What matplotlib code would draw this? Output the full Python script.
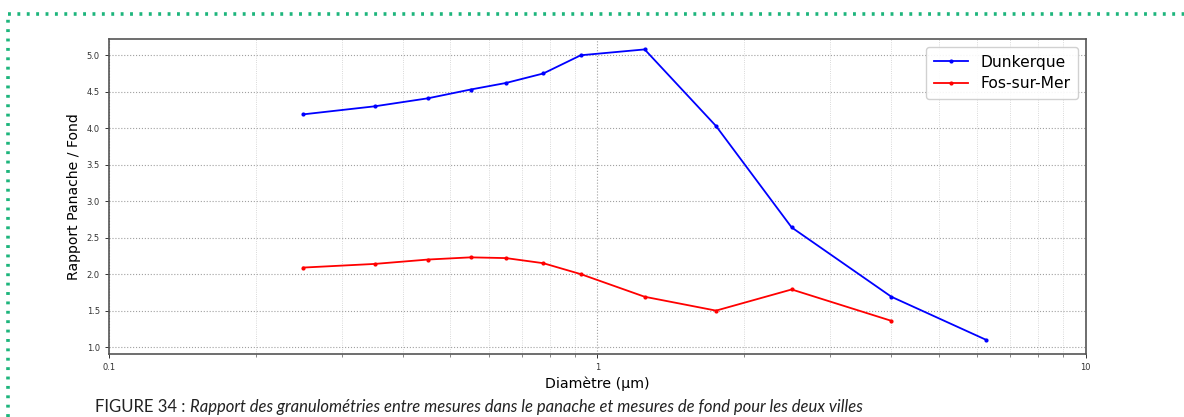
"""Rapport panache / fond des granulométries, Dunkerque vs Fos-sur-Mer."""
import numpy as np
import matplotlib
matplotlib.use("Agg")
import matplotlib.pyplot as plt
from matplotlib.lines import Line2D
from matplotlib.ticker import FixedLocator, FuncFormatter

# diamètres des classes (µm) et rapports
diam_dunkerque = [0.25, 0.35, 0.45, 0.55, 0.65, 0.775, 0.925, 1.25, 1.75, 2.5, 4.0, 6.25]
ratio_dunkerque = [4.19, 4.30, 4.41, 4.53, 4.62, 4.75, 5.00, 5.08, 4.03, 2.64, 1.69, 1.10]

diam_fos = [0.25, 0.35, 0.45, 0.55, 0.65, 0.775, 0.925, 1.25, 1.75, 2.5, 4.0]
ratio_fos = [2.09, 2.14, 2.20, 2.23, 2.22, 2.15, 2.00, 1.69, 1.50, 1.79, 1.36]

yticks = [1.0, 1.5, 2.0, 2.5, 3.0, 3.5, 4.0, 4.5, 5.0]
xticks = [0.1, 1, 10]

caption_head = "FIGURE 34 : "
caption_body = ("Rapport des granulométries entre mesures dans le panache "
                "et mesures de fond pour les deux villes")

fig = plt.figure(figsize=(11.84, 4.17), dpi=100)
ax = fig.add_axes([0.092, 0.151, 0.825, 0.755])

ax.plot(diam_dunkerque, ratio_dunkerque, "-", color="blue", marker=".",
        markersize=4, linewidth=1.3, label="Dunkerque")
ax.plot(diam_fos, ratio_fos, "-", color="red", marker=".",
        markersize=4, linewidth=1.3, label="Fos-sur-Mer")

ax.set_xscale("log")
ax.set_xlim(0.1, 10)
ax.set_ylim(0.905, 5.22)
ax.xaxis.set_major_locator(FixedLocator(xticks))
ax.xaxis.set_major_formatter(FuncFormatter(lambda v, p: f"{v:g}"))
ax.set_yticks(yticks)
ax.set_yticklabels([f"{v:.1f}" for v in yticks])
ax.tick_params(labelsize=6, colors="#333333", length=3, width=0.7)
ax.tick_params(which="minor", length=2, width=0.5, colors="#555555")

ax.grid(True, which="major", linestyle=":", color="#a0a0a0", linewidth=0.8)
ax.grid(True, which="minor", axis="x", linestyle=":", color="#cccccc", linewidth=0.6)
for s in ax.spines.values():
    s.set_color("#555555")
    s.set_linewidth(1.2)

ax.set_xlabel("Diamètre (µm)", fontsize=10.2, labelpad=3)
ax.set_ylabel("Rapport Panache / Fond", fontsize=10.1, labelpad=4)
ax.legend(loc="upper right", fontsize=11.2, handlelength=2.2, borderpad=0.5,
          labelspacing=0.4, framealpha=0.9)

# cadre pointillé vert du document
green = "#1db57c"
fig.add_artist(Line2D([8 / 1184, 1.0], [1 - 14 / 417, 1 - 14 / 417],
                      transform=fig.transFigure, color=green, linestyle=(0, (0.8, 1.8)),
                      linewidth=2.6))
fig.add_artist(Line2D([8 / 1184, 8 / 1184], [0.0, 1 - 14 / 417],
                      transform=fig.transFigure, color=green, linestyle=(0, (0.8, 1.8)),
                      linewidth=2.6))

# légende de figure en bas de l'image
ycap = 2 / 417
t = fig.text(95 / 1184, ycap, caption_head, fontsize=12,
             family="Lato", va="bottom", ha="left", color="#222222")
fig.canvas.draw()
bb = t.get_window_extent()
fig.text(bb.x1 / fig.bbox.width, ycap, caption_body, fontsize=12,
         family="Lato", style="italic", va="bottom", ha="left", color="#222222")

fig.savefig("out.png", dpi=100)
